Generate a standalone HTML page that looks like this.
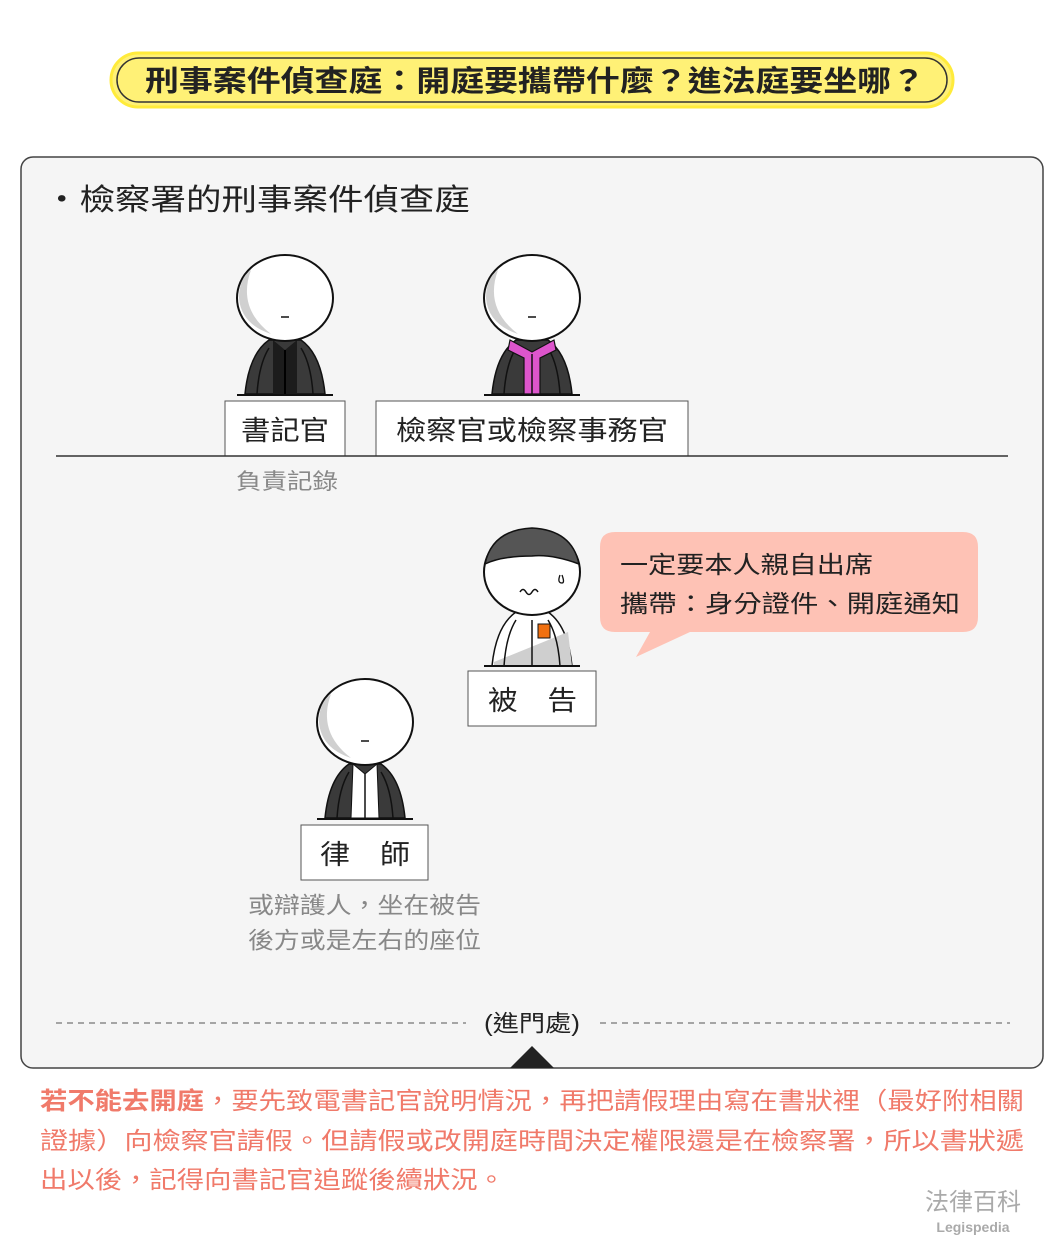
<!DOCTYPE html>
<html><head><meta charset="utf-8"><style>
body{margin:0;width:1064px;height:1248px;background:#fff;overflow:hidden;font-family:"Liberation Sans","Noto Sans CJK TC",sans-serif}
svg text{font-family:"Liberation Sans","Noto Sans CJK TC",sans-serif}
</style></head><body>
<svg width="1064" height="1248" viewBox="0 0 1064 1248" xmlns="http://www.w3.org/2000/svg">
<defs>
<g id="head">
<ellipse cx="0" cy="0" rx="48" ry="43" fill="#fff" stroke="#111" stroke-width="2"/>
<path d="M-34,-28 Q-48,10 -14,36 Q-44,26 -46,0 Q-46,-20 -34,-28Z" fill="#d0d0d0"/>
<line x1="-4" y1="19" x2="4" y2="19" stroke="#111" stroke-width="1.5"/>
</g>
<g id="robe">
<path d="M-40,54 Q-36,14 -16,0 L16,0 Q36,14 40,54Z" fill="#3a3a3a" stroke="#111" stroke-width="1.5"/>
<path d="M-28,54 Q-26,24 -16,8 M28,54 Q26,24 16,8" stroke="#111" stroke-width="1.5" fill="none"/>
<line x1="-48" y1="55" x2="48" y2="55" stroke="#111" stroke-width="2"/>
</g>
</defs>
<rect x="111" y="53" width="842" height="54" rx="27" fill="#fff176" stroke="#ffeb3b" stroke-width="3"/>
<rect x="117" y="58" width="830" height="44" rx="22" fill="none" stroke="#333" stroke-width="1.5"/>
<text x="145" y="91" font-size="29" font-weight="bold" fill="#222" textLength="780" lengthAdjust="spacingAndGlyphs">刑事案件偵查庭：開庭要攜帶什麼？進法庭要坐哪？</text>
<rect x="21" y="157" width="1022" height="911" rx="12" fill="#f5f5f5" stroke="#444" stroke-width="1.5"/>
<text x="44" y="210" font-size="30" fill="#222" textLength="426" lengthAdjust="spacingAndGlyphs">・檢察署的刑事案件偵查庭</text>
<g transform="translate(285,340)"><use href="#robe"/><path d="M-12,0 L0,10 L12,0 L12,54 L-12,54Z" fill="#1c1c1c"/><line x1="0" y1="10" x2="0" y2="54" stroke="#000" stroke-width="2"/></g>
<use href="#head" transform="translate(285,298)"/>
<g transform="translate(532,340)"><use href="#robe"/><path d="M-22,0 L0,12 L22,0 L24,10 L8,18 L8,54 L-8,54 L-8,18 L-24,10Z" fill="#dd55cc" stroke="#111" stroke-width="1.2"/><line x1="0" y1="14" x2="0" y2="54" stroke="#111" stroke-width="1.5"/></g>
<use href="#head" transform="translate(532,298)"/>
<rect x="225" y="401" width="120" height="55" fill="#fff" stroke="#555"/>
<text x="241" y="440" font-size="27" fill="#222" textLength="88" lengthAdjust="spacingAndGlyphs">書記官</text>
<rect x="376" y="401" width="312" height="55" fill="#fff" stroke="#555"/>
<text x="396" y="440" font-size="27" fill="#222" textLength="272" lengthAdjust="spacingAndGlyphs">檢察官或檢察事務官</text>
<line x1="56" y1="456" x2="1008" y2="456" stroke="#333" stroke-width="1.5"/>
<text x="236" y="489" font-size="22" fill="#888" textLength="102" lengthAdjust="spacingAndGlyphs">負責記錄</text>
<g transform="translate(532,612)">
<path d="M-40,54 Q-36,14 -16,0 L16,0 Q36,14 40,54Z" fill="#fff" stroke="#111" stroke-width="1.5"/>
<path d="M-38,50 L36,20 L40,54 L-38,54Z" fill="#cfcfcf"/>
<path d="M-28,54 Q-26,24 -16,8 M28,54 Q26,24 16,8 M0,8 L0,54" stroke="#111" stroke-width="1.5" fill="none"/>
<rect x="6" y="12" width="12" height="14" fill="#f07010" stroke="#111"/>
<line x1="-48" y1="54" x2="48" y2="54" stroke="#111" stroke-width="2"/>
</g>
<ellipse cx="532" cy="572" rx="48" ry="43" fill="#fff" stroke="#111" stroke-width="2"/>
<path d="M-47,-8 Q-40,-42 0,-44 Q40,-42 47,-8 Q20,-18 0,-16 Q-30,-16 -47,-8Z" transform="translate(532,572)" fill="#555" stroke="#111" stroke-width="1.5"/>
<path d="M520,592 q3,-5 6,0 q3,5 6,0 q3,-5 6,0" stroke="#111" fill="none" stroke-width="1.5"/>
<path d="M560,575 q-3,8 2,8 q3,0 0,-8" stroke="#111" fill="none" stroke-width="1.3"/>
<rect x="468" y="671" width="128" height="55" fill="#fff" stroke="#555"/>
<text x="488" y="710" font-size="27" fill="#222" textLength="89" lengthAdjust="spacingAndGlyphs">被　告</text>
<path d="M615,532 H963 Q978,532 978,547 V617 Q978,632 963,632 H690 L636,657 L650,632 H615 Q600,632 600,617 V547 Q600,532 615,532Z" fill="#fec2b5"/>
<text x="620" y="573" font-size="24" fill="#222" textLength="253" lengthAdjust="spacingAndGlyphs">一定要本人親自出席</text>
<text x="620" y="612" font-size="24" fill="#222" textLength="340" lengthAdjust="spacingAndGlyphs">攜帶：身分證件、開庭通知</text>
<g transform="translate(365,764)"><use href="#robe"/><path d="M-12,0 L0,10 L12,0 L14,54 L-14,54Z" fill="#fff" stroke="#111" stroke-width="1"/><line x1="0" y1="10" x2="0" y2="54" stroke="#111" stroke-width="1.5"/></g>
<use href="#head" transform="translate(365,722)"/>
<rect x="301" y="825" width="127" height="55" fill="#fff" stroke="#555"/>
<text x="320" y="864" font-size="27" fill="#222" textLength="90" lengthAdjust="spacingAndGlyphs">律　師</text>
<text x="248" y="913" font-size="23" fill="#888" textLength="233" lengthAdjust="spacingAndGlyphs">或辯護人，坐在被告</text>
<text x="248" y="948" font-size="23" fill="#888" textLength="233" lengthAdjust="spacingAndGlyphs">後方或是左右的座位</text>
<line x1="56" y1="1023" x2="466" y2="1023" stroke="#555" stroke-dasharray="6,5"/>
<line x1="600" y1="1023" x2="1010" y2="1023" stroke="#555" stroke-dasharray="6,5"/>
<text x="484" y="1031" font-size="23" fill="#222" textLength="96" lengthAdjust="spacingAndGlyphs">(進門處)</text>
<path d="M510,1068 L532,1046 L554,1068Z" fill="#222"/>
<text x="40" y="1109" font-size="24" fill="#f07a6a" textLength="984" lengthAdjust="spacingAndGlyphs"><tspan font-weight="bold">若不能去開庭</tspan>，要先致電書記官說明情況，再把請假理由寫在書狀裡（最好附相關</text>
<text x="40" y="1149" font-size="24" fill="#f07a6a" textLength="984" lengthAdjust="spacingAndGlyphs">證據）向檢察官請假。但請假或改開庭時間決定權限還是在檢察署，所以書狀遞</text>
<text x="40" y="1188" font-size="24" fill="#f07a6a" textLength="465" lengthAdjust="spacingAndGlyphs">出以後，記得向書記官追蹤後續狀況。</text>
<text x="973" y="1210" text-anchor="middle" font-size="24" fill="#aaa">法律百科</text>
<text x="973" y="1232" text-anchor="middle" font-size="14" font-weight="bold" fill="#aaa">Legispedia</text>
</svg>
</body></html>
